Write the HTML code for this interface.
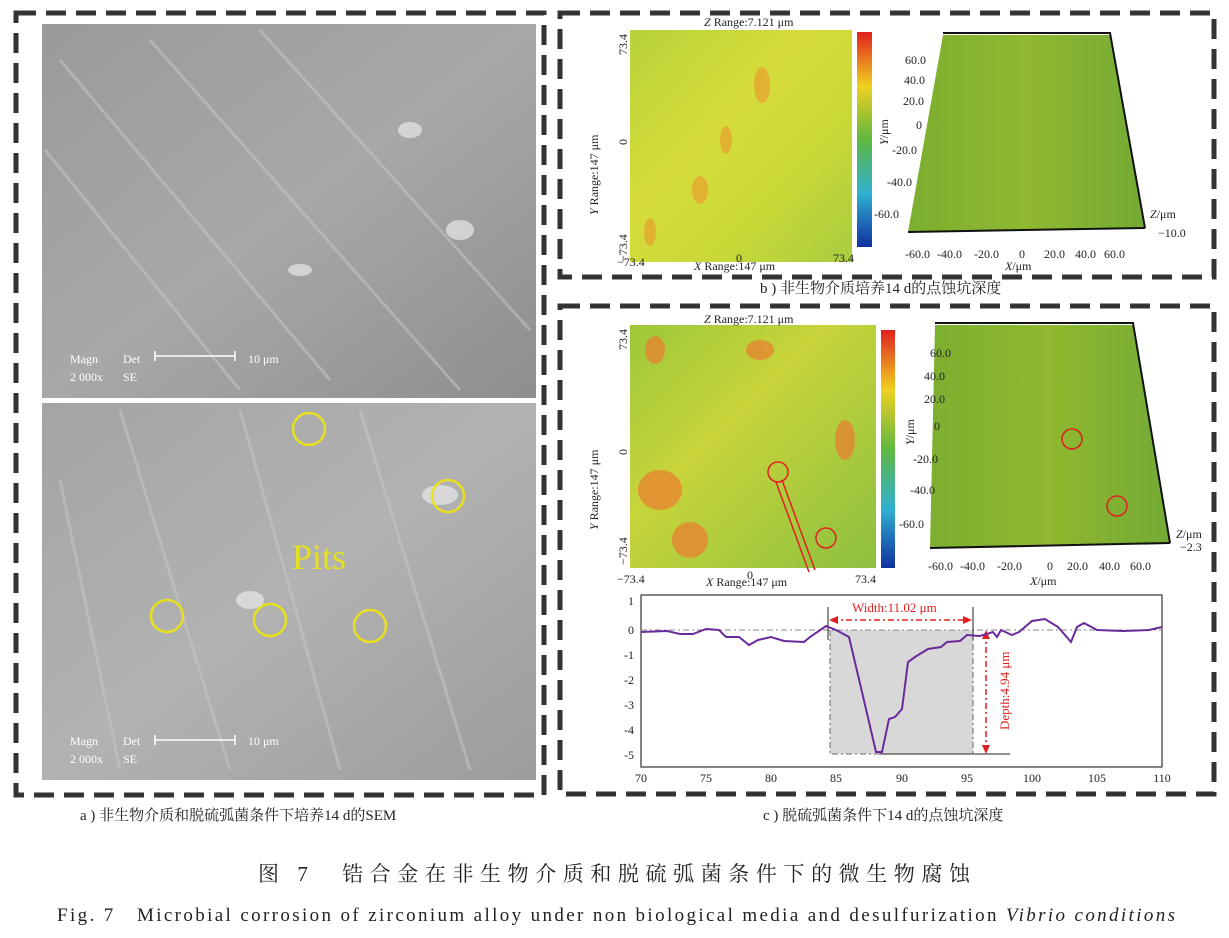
<!DOCTYPE html>
<html><head><meta charset="utf-8"><style>
body{margin:0;width:1229px;height:938px;background:#fff;overflow:hidden;font-family:"Liberation Serif","Noto Serif CJK SC",serif}
svg{position:absolute;left:0;top:0}
</style></head><body>
<svg width="1229" height="938" viewBox="0 0 1229 938" font-family="Liberation Serif, Noto Serif CJK SC, serif">
<defs>
<linearGradient id="sem1" x1="0" y1="0" x2="1" y2="1"><stop offset="0" stop-color="#9a9a9a"/><stop offset="0.5" stop-color="#a8a8a8"/><stop offset="1" stop-color="#8e8e8e"/></linearGradient>
<linearGradient id="sem2" x1="0" y1="0" x2="1" y2="1"><stop offset="0" stop-color="#a4a4a4"/><stop offset="0.5" stop-color="#b2b2b2"/><stop offset="1" stop-color="#9c9c9c"/></linearGradient>
<linearGradient id="hm" x1="0" y1="0" x2="1" y2="1"><stop offset="0" stop-color="#b8d23a"/><stop offset="0.4" stop-color="#d6dc3a"/><stop offset="0.7" stop-color="#c8d838"/><stop offset="1" stop-color="#a8cc40"/></linearGradient>
<linearGradient id="hm2" x1="0" y1="0" x2="1" y2="1"><stop offset="0" stop-color="#9cc83a"/><stop offset="0.4" stop-color="#c8d43a"/><stop offset="1" stop-color="#8cc040"/></linearGradient>
<linearGradient id="cb" x1="0" y1="0" x2="0" y2="1"><stop offset="0" stop-color="#e02020"/><stop offset="0.25" stop-color="#f0d020"/><stop offset="0.5" stop-color="#60b840"/><stop offset="0.75" stop-color="#30b0d0"/><stop offset="1" stop-color="#1030a0"/></linearGradient>
<linearGradient id="s3" x1="0" y1="0" x2="1" y2="0"><stop offset="0" stop-color="#7cae30"/><stop offset="0.5" stop-color="#90b830"/><stop offset="1" stop-color="#74aa34"/></linearGradient>
</defs>
<g fill="none" stroke="#333" stroke-width="5" stroke-dasharray="20 10">
<rect x="16" y="13" width="528" height="782"/>
<rect x="560" y="13" width="654" height="264"/>
<rect x="560" y="306" width="654" height="488"/>
</g>
<rect x="42" y="24" width="494" height="374" fill="url(#sem1)"/>
<rect x="42" y="403" width="494" height="377" fill="url(#sem2)"/>
<g stroke="#c8c8c8" stroke-width="3" opacity="0.5">
<line x1="60" y1="60" x2="330" y2="380"/><line x1="150" y1="40" x2="460" y2="390"/><line x1="260" y1="30" x2="530" y2="330"/><line x1="45" y1="150" x2="240" y2="390"/>
<line x1="120" y1="410" x2="230" y2="770"/><line x1="240" y1="410" x2="340" y2="770"/><line x1="360" y1="410" x2="470" y2="770"/><line x1="60" y1="480" x2="120" y2="770"/>
</g>
<g fill="#e8e8e8" opacity="0.7"><ellipse cx="410" cy="130" rx="12" ry="8"/><ellipse cx="460" cy="230" rx="14" ry="10"/><ellipse cx="300" cy="270" rx="12" ry="6"/><ellipse cx="440" cy="495" rx="18" ry="10"/><ellipse cx="250" cy="600" rx="14" ry="9"/></g>
<g fill="#fff" font-size="12"><text x="70" y="363">Magn</text><text x="123" y="363">Det</text><text x="248" y="363">10 μm</text><text x="70" y="381">2 000x</text><text x="123" y="381">SE</text>
<text x="70" y="745">Magn</text><text x="123" y="745">Det</text><text x="248" y="745">10 μm</text><text x="70" y="763">2 000x</text><text x="123" y="763">SE</text></g>
<g stroke="#fff" stroke-width="1.5"><line x1="155" y1="356" x2="235" y2="356"/><line x1="155" y1="351" x2="155" y2="361"/><line x1="235" y1="351" x2="235" y2="361"/>
<line x1="155" y1="740" x2="235" y2="740"/><line x1="155" y1="735" x2="155" y2="745"/><line x1="235" y1="735" x2="235" y2="745"/></g>
<text x="292" y="569" fill="#e6e020" font-size="36">Pits</text>
<g fill="none" stroke="#e6e020" stroke-width="2.5"><circle cx="309" cy="429" r="16"/><circle cx="448" cy="496" r="16"/><circle cx="167" cy="616" r="16"/><circle cx="270" cy="620" r="16"/><circle cx="370" cy="626" r="16"/></g>
<rect x="630" y="30" width="222" height="232" fill="url(#hm)"/>
<g fill="#e8a030" opacity="0.7"><ellipse cx="762" cy="85" rx="8" ry="18"/><ellipse cx="700" cy="190" rx="8" ry="14"/><ellipse cx="726" cy="140" rx="6" ry="14"/><ellipse cx="650" cy="232" rx="6" ry="14"/></g>
<rect x="857" y="32" width="15" height="215" fill="url(#cb)"/>
<g font-size="12" fill="#222">
<text x="704" y="26"><tspan font-style="italic">Z</tspan> Range:7.121 μm</text>
<text x="617" y="266">−73.4</text><text x="736" y="262">0</text><text x="833" y="262">73.4</text>
<text x="694" y="270"><tspan font-style="italic">X</tspan> Range:147 μm</text>
<text transform="translate(627,55) rotate(-90)">73.4</text><text transform="translate(627,145) rotate(-90)">0</text><text transform="translate(627,262) rotate(-90)">−73.4</text>
<text transform="translate(598,215) rotate(-90)"><tspan font-style="italic">Y</tspan> Range:147 μm</text>
<text x="874" y="218">-60.0</text>
</g>
<polygon points="943,35 1110,35 1145,228 908,232" fill="url(#s3)"/>
<polyline points="943,33 1110,33 1145,228" fill="none" stroke="#111" stroke-width="2"/>
<line x1="908" y1="232" x2="1145" y2="228" stroke="#111" stroke-width="2"/>
<g font-size="12" fill="#222">
<text x="905" y="64">60.0</text><text x="904" y="84">40.0</text><text x="903" y="105">20.0</text><text x="916" y="129">0</text><text x="892" y="154">-20.0</text><text x="887" y="186">-40.0</text>
<text transform="translate(888,145) rotate(-90)"><tspan font-style="italic">Y</tspan>/μm</text>
<text x="1150" y="218"><tspan font-style="italic">Z</tspan>/μm</text><text x="1158" y="237">−10.0</text>
<text x="905" y="258">-60.0</text><text x="937" y="258">-40.0</text><text x="974" y="258">-20.0</text><text x="1019" y="258">0</text><text x="1044" y="258">20.0</text><text x="1075" y="258">40.0</text><text x="1104" y="258">60.0</text>
<text x="1005" y="270"><tspan font-style="italic">X</tspan>/μm</text>
</g>
<rect x="630" y="325" width="246" height="243" fill="url(#hm2)"/>
<g fill="#e88030" opacity="0.75"><ellipse cx="660" cy="490" rx="22" ry="20"/><ellipse cx="690" cy="540" rx="18" ry="18"/><ellipse cx="760" cy="350" rx="14" ry="10"/><ellipse cx="655" cy="350" rx="10" ry="14"/><ellipse cx="845" cy="440" rx="10" ry="20"/></g>
<rect x="881" y="330" width="14" height="238" fill="url(#cb)"/>
<g fill="none" stroke="#e02020" stroke-width="1.5"><circle cx="778" cy="472" r="10"/><circle cx="826" cy="538" r="10"/><line x1="782" y1="480" x2="815" y2="570"/><line x1="776" y1="482" x2="809" y2="572"/></g>
<g font-size="12" fill="#222">
<text x="704" y="323"><tspan font-style="italic">Z</tspan> Range:7.121 μm</text>
<text x="617" y="583">−73.4</text><text x="747" y="579">0</text><text x="855" y="583">73.4</text>
<text x="706" y="586"><tspan font-style="italic">X</tspan> Range:147 μm</text>
<text transform="translate(627,350) rotate(-90)">73.4</text><text transform="translate(627,455) rotate(-90)">0</text><text transform="translate(627,565) rotate(-90)">−73.4</text>
<text transform="translate(598,530) rotate(-90)"><tspan font-style="italic">Y</tspan> Range:147 μm</text>
<text x="899" y="528">-60.0</text>
</g>
<polygon points="935,325 1133,325 1170,543 930,548" fill="url(#s3)"/>
<polyline points="935,323 1133,323 1170,543" fill="none" stroke="#111" stroke-width="2"/>
<line x1="930" y1="548" x2="1170" y2="543" stroke="#111" stroke-width="2"/>
<g fill="none" stroke="#e02020" stroke-width="1.5"><circle cx="1072" cy="439" r="10"/><circle cx="1117" cy="506" r="10"/></g>
<g font-size="12" fill="#222">
<text x="930" y="357">60.0</text><text x="924" y="380">40.0</text><text x="924" y="403">20.0</text><text x="934" y="430">0</text><text x="913" y="463">-20.0</text><text x="910" y="494">-40.0</text>
<text transform="translate(914,445) rotate(-90)"><tspan font-style="italic">Y</tspan>/μm</text>
<text x="1176" y="538"><tspan font-style="italic">Z</tspan>/μm</text><text x="1180" y="551">−2.3</text>
<text x="928" y="570">-60.0</text><text x="960" y="570">-40.0</text><text x="997" y="570">-20.0</text><text x="1047" y="570">0</text><text x="1067" y="570">20.0</text><text x="1099" y="570">40.0</text><text x="1130" y="570">60.0</text>
<text x="1030" y="585"><tspan font-style="italic">X</tspan>/μm</text>
</g>
<rect x="641" y="595" width="521" height="172" fill="#fff" stroke="#333" stroke-width="1.2"/>
<rect x="830" y="630" width="143" height="124" fill="#d8d8d8"/>
<line x1="641" y1="630" x2="1162" y2="630" stroke="#888" stroke-dasharray="6 3 2 3"/>
<polyline fill="none" stroke="#666" stroke-dasharray="6 3 2 3" points="830,630 830,754 880,754"/>
<line x1="973" y1="630" x2="973" y2="754" stroke="#666" stroke-dasharray="6 3 2 3"/>
<line x1="880" y1="754" x2="1010" y2="754" stroke="#222"/>
<line x1="828" y1="607" x2="828" y2="640" stroke="#222"/><line x1="973" y1="607" x2="973" y2="640" stroke="#222"/>
<g stroke="#e02020" stroke-width="1.5" stroke-dasharray="6 3 2 3"><line x1="832" y1="620" x2="969" y2="620"/><line x1="986" y1="633" x2="986" y2="750"/></g>
<g fill="#e02020"><polygon points="829,620 838,616 838,624"/><polygon points="972,620 963,616 963,624"/><polygon points="986,630 982,639 990,639"/><polygon points="986,754 982,745 990,745"/></g>
<text x="852" y="612" font-size="13" fill="#e02020">Width:11.02 μm</text>
<text transform="translate(1009,730) rotate(-90)" font-size="13" fill="#e02020">Depth:4.94 μm</text>
<polyline fill="none" stroke="#6a2a9a" stroke-width="2" points="641,632 667,631 680,634 693,634 706,629 719,630 726,637 739,637 749,645 758,640 771,637 784,641 804,642 810,637 826,626 836,630 849,637 862,692 876,752 882,752 889,719 895,717 902,709 908,662 915,657 928,649 941,647 947,642 960,641 967,635 980,636 993,632 997,637 1001,630 1012,635 1019,632 1032,621 1045,619 1058,627 1071,642 1077,627 1084,623 1097,630 1123,631 1149,630 1162,627"/>
<g font-size="12" fill="#222" text-anchor="end">
<text x="634" y="605">1</text><text x="634" y="634">0</text><text x="634" y="659">-1</text><text x="634" y="684">-2</text><text x="634" y="709">-3</text><text x="634" y="734">-4</text><text x="634" y="759">-5</text>
</g>
<g font-size="12" fill="#222" text-anchor="middle">
<text x="641" y="782">70</text><text x="706" y="782">75</text><text x="771" y="782">80</text><text x="836" y="782">85</text><text x="902" y="782">90</text><text x="967" y="782">95</text><text x="1032" y="782">100</text><text x="1097" y="782">105</text><text x="1162" y="782">110</text>
</g>
<g font-size="15" fill="#222">
<text x="760" y="293">b ) 非生物介质培养14 d的点蚀坑深度</text>
<text x="80" y="820">a ) 非生物介质和脱硫弧菌条件下培养14 d的SEM</text>
<text x="763" y="820">c ) 脱硫弧菌条件下14 d的点蚀坑深度</text>
</g>
<text x="258" y="881" font-size="21" fill="#222" textLength="712" lengthAdjust="spacing">图 7　锆合金在非生物介质和脱硫弧菌条件下的微生物腐蚀</text>
<text x="57" y="921" font-size="19" fill="#222" textLength="1118" lengthAdjust="spacing">Fig. 7　Microbial corrosion of zirconium alloy under non biological media and desulfurization <tspan font-style="italic">Vibrio conditions</tspan></text>
</svg>
</body></html>
